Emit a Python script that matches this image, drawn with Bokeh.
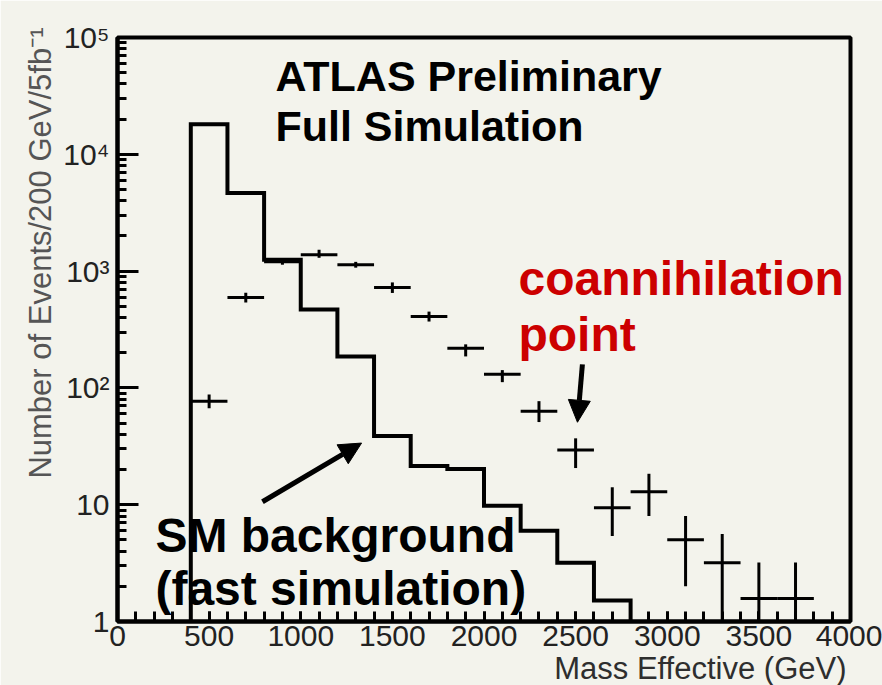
import math
from bokeh.plotting import figure
from bokeh.models import (Label, Arrow, NormalHead, SingleIntervalTicker, LogTicker,
                          CustomJSTickFormatter, ColumnDataSource, Title)
from bokeh.embed import file_html
from bokeh.resources import INLINE

# ---------------- data ----------------
# SM background histogram (fast simulation), 200 GeV bins
bkg_edges = [400, 600, 800, 1000, 1200, 1400, 1600, 1800, 2000, 2200, 2400, 2600, 2800]
bkg_counts = [18100, 4670, 1250, 469, 186, 38.7, 21.4, 20.2, 9.8, 5.97, 3.18, 1.51]

# coannihilation point (full simulation), bin centres with errors
sig_x = [500, 700, 900, 1100, 1300, 1500, 1700, 1900, 2100, 2300, 2500, 2700, 2900, 3100, 3300, 3500, 3700]
sig_y = [77, 593, 1203, 1380, 1134, 722, 408, 218, 131, 63, 29.4, 9.4, 12.9, 5.0, 3.18, 1.57, 1.57]
sig_lo = [67, 538, 1134, 1300, 1070, 650, 370, 186, 112, 51, 20.6, 5.4, 8.0, 2.0, 0.5, 0.5, 0.5]
sig_hi = [88, 654, 1276, 1520, 1200, 800, 450, 236, 142, 77, 37, 14.1, 18.4, 8.0, 5.6, 3.2, 3.2]
bin_half_width = 100

y_tick_labels = ["1", "10", "10\u00b2", "10\u00b3", "10\u2074", "10\u2075"]
x_title = "Mass Effective (GeV)"
y_title = "Number of Events/200 GeV/5fb\u207b\u00b9"

BG = "#f3f3ec"
FONT = "Liberation Sans"

p = figure(width=882, height=685, y_axis_type="log",
           x_range=(0, 4000), y_range=(1, 1e5),
           output_backend="svg", toolbar_location=None,
           min_border_left=117, min_border_right=32,
           min_border_top=37, min_border_bottom=62)
p.background_fill_color = BG
p.border_fill_color = BG
p.outline_line_color = "black"
p.outline_line_width = 4
p.grid.visible = False

# axes
for ax in (p.xaxis[0], p.yaxis[0]):
    ax.axis_line_width = 4
    ax.axis_line_color = "black"
    ax.major_tick_out = 0
    ax.minor_tick_out = 0
    ax.major_tick_line_width = 3
    ax.minor_tick_line_width = 3
    ax.major_tick_line_color = "black"
    ax.minor_tick_line_color = "black"
    ax.major_label_text_font = FONT
    ax.major_label_text_font_size = "30px"
    ax.major_label_text_color = "#222222"

p.xaxis.ticker = SingleIntervalTicker(interval=500, num_minor_ticks=5)
p.xaxis.major_tick_in = 10
p.xaxis.minor_tick_in = 10
p.xaxis.major_label_standoff = 4

p.yaxis.ticker = LogTicker(num_minor_ticks=10)
p.yaxis.major_tick_in = 21
p.yaxis.minor_tick_in = 9
p.yaxis.major_label_standoff = 8
p.yaxis.formatter = CustomJSTickFormatter(args=dict(labels=y_tick_labels),
                                          code="return labels[Math.round(Math.log10(tick))];")

# axis titles as side titles (aligned to the frame ends)
p.add_layout(Title(text=x_title, align="right", text_font=FONT, text_font_size="31px",
                   text_font_style="normal", text_color="#2e2e2e", standoff=0, offset=4), "below")
p.add_layout(Title(text=y_title, align="right", text_font=FONT, text_font_size="31px",
                   text_font_style="normal", text_color="#555555", standoff=6, offset=-10), "left")

# background histogram as a step outline
floor = 0.1
hx, hy = [bkg_edges[0]], [floor]
for i, c in enumerate(bkg_counts):
    hx += [bkg_edges[i], bkg_edges[i + 1]]
    hy += [c, c]
hx.append(bkg_edges[-1])
hy.append(floor)
p.line(hx, hy, line_color="black", line_width=4, line_join="miter")

# signal crosses
src = ColumnDataSource(dict(
    x=sig_x, y=sig_y, lo=sig_lo, hi=sig_hi,
    x0=[v - bin_half_width for v in sig_x], x1=[v + bin_half_width for v in sig_x]))
p.segment(x0="x0", y0="y", x1="x1", y1="y", source=src, line_color="black", line_width=3)
p.segment(x0="x", y0="lo", x1="x", y1="hi", source=src, line_color="black", line_width=3)

# texts
def lab(text, x, y, size, color="black", style="bold", align="left", angle=0, font=FONT):
    p.add_layout(Label(x=x, y=y, text=text, text_font=font, text_font_size=size,
                       text_font_style=style, text_color=color, text_align=align,
                       text_baseline="alphabetic", angle=angle))

lab("ATLAS Preliminary", 862, 46500, "43px")
lab("Full Simulation", 862, 17400, "43px")
lab("coannihilation", 2188, 861, "48px", color="#cc0000")
lab("point", 2188, 287, "48px", color="#cc0000")
lab("SM background", 207, 5.42, "48px")
lab("(fast simulation)", 207, 1.91, "48px")

# arrows
p.add_layout(Arrow(end=NormalHead(size=22, fill_color="black", line_color="black"),
                   x_start=791, y_start=10.6, x_end=1332, y_end=33.7,
                   line_width=5, line_color="black"))
p.add_layout(Arrow(end=NormalHead(size=22, fill_color="black", line_color="black"),
                   x_start=2537, y_start=159, x_end=2510, y_end=50.8,
                   line_width=5, line_color="black"))

open("out.html", "w").write(file_html(p, INLINE))
